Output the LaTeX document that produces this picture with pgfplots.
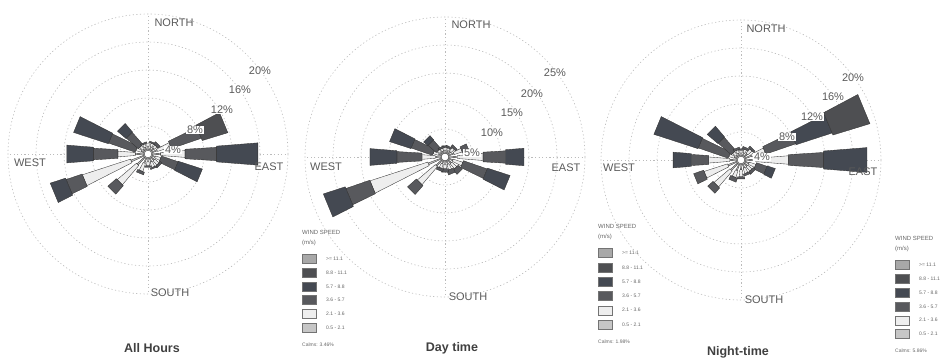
\documentclass[border=0pt]{standalone}
\usepackage{fontspec}
\setmainfont{Liberation Sans}
\usepackage{pgfplots}
\usepackage{pgfplotstable}
\pgfplotsset{compat=1.18}
\usepgfplotslibrary{polar}

% speed-class fills (0.5-2.1 ... >=11.1 m/s)
\definecolor{ws1}{HTML}{C6C6C6}
\definecolor{ws2}{HTML}{EEEEEE}
\definecolor{ws3}{HTML}{58595D}
\definecolor{ws4}{HTML}{444952}
\definecolor{ws5}{HTML}{4E4F52}
\definecolor{ws6}{HTML}{A8A8A8}
\definecolor{txt}{HTML}{5A5A5A}
\definecolor{ring}{HTML}{BBBBBB}

% frequency (%) per direction and speed class
\pgfplotstableread{
dir    c1  c2   c3  c4  c5  c6
90     0.5 0.4  0   0   0   0
67.5   0.5 0.5  0.2 0   0   0
45     0.5 0.5  0.4 0   0   0
22.5   0.8 2.0  4.5 0   3.8 0
0      1.2 3.5  4.5 5.9 0   0
-22.5  0.5 0.8  2.5 3.6 0   0
-45    0.6 0.8  0.3 0   0   0
-67.5  0.6 0.8  0.2 0   0   0
-90    0.5 0.6  0.2 0   0   0
-112.5 0.8 1.2  0.4 0   0   0
-135   1.5 3.6  1.6 0   0   0
-157.5 2.0 7.2  2.4 2.3 0   0
180    1.2 2.5  3.5 3.8 0   0
157.5  0.4 0.8  4.0 5.2 0   0
135    0.3 0.6  2.3 1.6 0   0
112.5  0.4 0.5  0.2 0   0   0
}\roseall

\pgfplotstableread{
dir    c1  c2   c3  c4  c5  c6
90     0.5 0.5  0.3 0   0   0
67.5   0.5 0.5  0.3 0   0   0
45     0.6 0.8  0.4 0   0   0
22.5   1.0 1.5  1.2 0   0   0
0      1.5 4.6  4.0 3.3 0   0
-22.5  0.8 1.8  4.5 4.2 0   0
-45    0.8 1.2  1.0 0   0   0
-67.5  0.7 1.0  0.8 0   0   0
-90    0.6 0.8  0.6 0   0   0
-112.5 0.6 0.8  0.5 0   0   0
-135   1.5 4.2  2.1 0   0   0
-157.5 2.5 10.8 4.5 4.1 0   0
180    1.0 2.4  4.5 4.8 0   0
157.5  0.5 1.0  4.0 4.0 0   0
135    0.4 0.6  1.9 1.0 0   0
112.5  0.4 0.5  0.3 0   0   0
}\roseday

\pgfplotstableread{
dir    c1  c2   c3  c4  c5  c6
90     0.4 0.4  0.2 0   0   0
67.5   0.5 0.5  0.3 0   0   0
45     0.6 0.8  0.3 0   0   0
22.5   1.0 2.0  4.5 5.4 5.5 0
0      1.5 4.7  5.0 6.2 0   0
-22.5  0.6 1.0  1.6 1.2 0   0
-45    0.6 0.8  0.4 0   0   0
-67.5  0.6 0.8  0.3 0   0   0
-90    0.8 1.0  0.3 0   0   0
-112.5 1.0 1.0  0.6 0   0   0
-135   1.4 3.0  1.0 0   0   0
-157.5 1.4 3.5  1.5 0   0   0
180    1.0 3.0  2.5 2.6 0   0
157.5  0.4 0.8  4.5 6.6 0   0
135    0.3 0.6  2.5 2.0 0   0
112.5  0.4 0.5  0.3 0   0   0
}\rosenight

% stacked petals: #1 table, #2 hub radius, #3 points per percent
% half-width of a class segment at radius r: a/#3 + r*tan(phi)
\newcommand\rosebars[3]{%
  \pgfplotstablegetrowsof{#1}%
  \pgfmathtruncatemacro\lastrow{\pgfplotsretval-1}%
  \foreach \i in {0,...,\lastrow}{%
    \pgfplotstablegetelem{\i}{dir}\of{#1}\let\rdir\pgfplotsretval
    \xdef\rlo{#2}%
    \foreach \k in {1,...,6}{%
      \pgfplotstablegetelem{\i}{c\k}\of{#1}\let\seg\pgfplotsretval
      \ifdim\seg pt>0pt
        \pgfmathsetmacro\rhi{\rlo+\seg}%
        \edef\wa{\ifcase\k\or 0.3\or 0.5\or 2.5\or 2.5\or 3\or 3.5\fi}%
        \edef\wphi{\ifcase\k\or 2\or 4.5\or 3.5\or 4.5\or 5.5\or 6\fi}%
        \pgfmathsetmacro\hwA{\wa/#3+\rlo*tan(\wphi)}%
        \pgfmathsetmacro\hwB{\wa/#3+\rhi*tan(\wphi)}%
        \pgfmathsetmacro\dA{atan(\hwA/\rlo)}%
        \pgfmathsetmacro\dB{atan(\hwB/\rhi)}%
        \pgfmathsetmacro\rA{sqrt(\rlo*\rlo+\hwA*\hwA)}%
        \pgfmathsetmacro\rB{sqrt(\rhi*\rhi+\hwB*\hwB)}%
        \pgfmathsetmacro\aA{\rdir-\dA}\pgfmathsetmacro\aB{\rdir-\dB}%
        \pgfmathsetmacro\aC{\rdir+\dB}\pgfmathsetmacro\aD{\rdir+\dA}%
        \edef\temp{\noexpand\addplot[draw=black!80, line width=0.35pt, fill=ws\k]
          coordinates {(\aA,\rA) (\aB,\rB) (\aC,\rB) (\aD,\rA)} -- cycle;}%
        \temp
        \xdef\rlo{\rhi}%
      \fi
    }%
  }%
}

\pgfplotsset{
  rose/.style={
    scale only axis, width=280pt, height=280pt, anchor=center,
    xmin=0, xmax=360, ymin=0,
    xtick={0,90,180,270}, xticklabels={}, yticklabels={},
    major tick length=0pt,
    grid=major,
    major grid style={ring, line width=0.6pt, dash pattern=on 1.2pt off 2.4pt},
    axis line style={ring, line width=0.6pt, dash pattern=on 1.2pt off 2.4pt},
    clip=false,
  },
}

\tikzset{
  dirlab/.style={font=\fontsize{11}{12}\selectfont, text=txt, inner sep=0.5pt},
  pct/.style={font=\fontsize{11}{12}\selectfont, text=txt, fill=white, inner sep=0.6pt},
  ttl/.style={font=\fontsize{12.5}{14}\selectfont\bfseries, text=black!75},
  lg/.style={font=\fontsize{6}{7}\selectfont, text=black!60, anchor=west, inner sep=0pt},
  lgs/.style={font=\fontsize{5}{6}\selectfont, text=black!60, anchor=west, inner sep=0pt},
}

% legend: #1 left x, #2 title y, #3 calms, #4 row step
\newcommand\windlegend[4]{%
  \begin{scope}[shift={(#1pt,#2pt)}]
    \node[lg] at (0pt,0pt) {WIND SPEED};
    \node[lg] at (0pt,-11pt) {(m/s)};
    \foreach \lab [count=\n] in {>= 11.1, 8.8 - 11.1, 5.7 - 8.8, 3.6 - 5.7, 2.1 - 3.6, 0.5 - 2.1}{%
      \pgfmathtruncatemacro\cls{7-\n}%
      \pgfmathsetmacro\yy{-27-(\n-1)*#4}%
      \fill[ws\cls, draw=black!55, line width=0.4pt] (0pt,\yy pt-4.5pt) rectangle (14pt,\yy pt+4.5pt);
      \node[lgs] at (24pt,\yy pt) {\lab};
    }
    \node[lgs] at (0pt,-27pt-5*#4pt-17pt) {Calms: #3};
  \end{scope}
}

\begin{document}
\begin{tikzpicture}
\useasboundingbox (0pt,0pt) rectangle (948pt,362pt);

% ---------- All Hours ----------
\begin{polaraxis}[rose, at={(148pt,208pt)}, ymax=20, ytick={4,8,12,16}]
  \rosebars{\roseall}{0.6}{7}
  \draw[fill=white, draw=black!80, line width=0.4pt] (axis cs:0,0) circle[radius=3.8pt];
\end{polaraxis}
\node[dirlab] at (174pt,339pt) {NORTH};
\node[dirlab] at (170pt,69pt) {SOUTH};
\node[dirlab] at (30pt,199pt) {WEST};
\node[dirlab] at (269pt,195pt) {EAST};
\node[pct] at (260pt,291pt) {20\%};
\node[pct] at (240pt,272pt) {16\%};
\node[pct] at (222pt,252pt) {12\%};
\node[pct] at (195pt,232pt) {8\%};
\node[pct] at (173pt,212pt) {4\%};
\node[ttl] at (152pt,14pt) {All Hours};

% ---------- Day time ----------
\begin{polaraxis}[rose, at={(445pt,205pt)}, ymax=25, ytick={5,10,15,20}]
  \rosebars{\roseday}{0.7}{5.6}
  \draw[fill=white, draw=black!80, line width=0.4pt] (axis cs:0,0) circle[radius=3.8pt];
\end{polaraxis}
\node[dirlab] at (471pt,337pt) {NORTH};
\node[dirlab] at (468pt,65pt) {SOUTH};
\node[dirlab] at (326pt,195pt) {WEST};
\node[dirlab] at (566pt,194pt) {EAST};
\node[pct] at (555pt,289pt) {25\%};
\node[pct] at (532pt,268pt) {20\%};
\node[pct] at (512pt,249pt) {15\%};
\node[pct] at (492pt,229pt) {10\%};
\node[pct] at (472pt,209pt) {5\%};
\node[ttl] at (452pt,14pt) {Day time};

% ---------- Night-time ----------
\begin{polaraxis}[rose, at={(741pt,202pt)}, ymax=20, ytick={4,8,12,16}]
  \rosebars{\rosenight}{0.6}{7}
  \draw[fill=white, draw=black!80, line width=0.4pt] (axis cs:0,0) circle[radius=3.8pt];
\end{polaraxis}
\node[dirlab] at (766pt,333pt) {NORTH};
\node[dirlab] at (764pt,62pt) {SOUTH};
\node[dirlab] at (619pt,194pt) {WEST};
\node[dirlab] at (863pt,190pt) {EAST};
\node[pct] at (853pt,284pt) {20\%};
\node[pct] at (833pt,265pt) {16\%};
\node[pct] at (812pt,245pt) {12\%};
\node[pct] at (787pt,225pt) {8\%};
\node[pct] at (762pt,205pt) {4\%};
\node[ttl] at (738pt,10pt) {Night-time};

% ---------- legends ----------
\windlegend{302}{130}{3.46\%}{13.7}
\windlegend{598}{136}{1.98\%}{14.3}
\windlegend{895}{124}{5.86\%}{13.8}
\end{tikzpicture}
\end{document}
